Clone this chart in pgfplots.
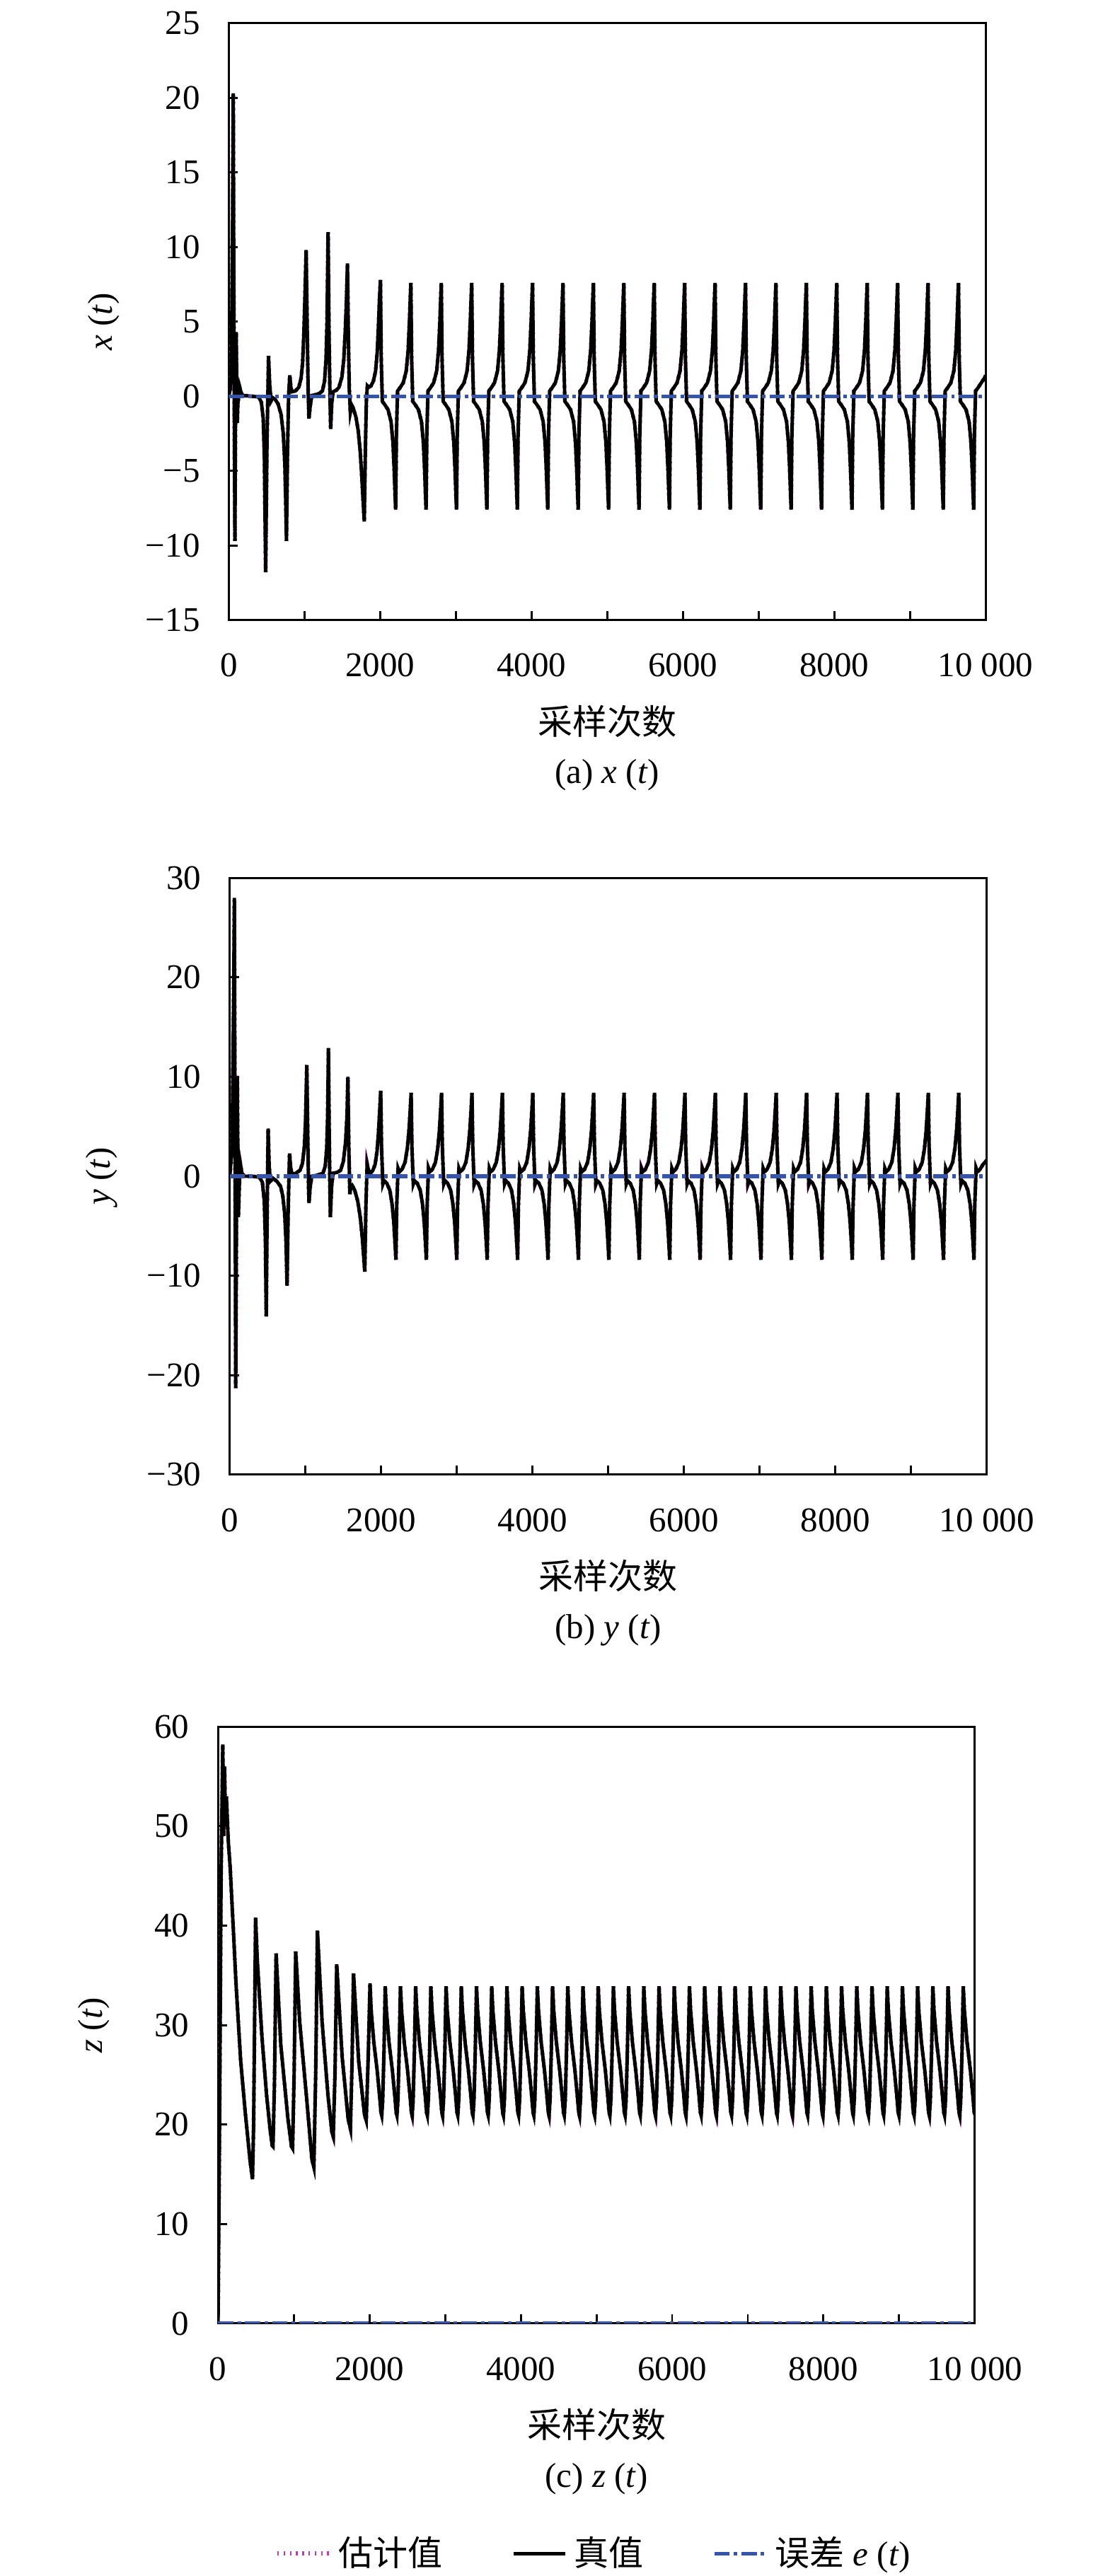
\documentclass[border=0pt]{standalone}
\usepackage{fontspec}
\setmainfont{Liberation Serif}
\newfontfamily\cjk{Noto Sans CJK SC}
\usepackage{pgfplots}
\pgfplotsset{compat=1.18}
\usepackage{pgfplotstable}
\definecolor{errblue}{RGB}{55,85,168}
\definecolor{estmag}{RGB}{175,70,165}

\pgfplotstableread[row sep=\\]{
t v\\
0 0\\ 20 0.5\\ 35 2.4\\ 50 12\\ 59 20.3\\ 66 8\\ 74 -3\\ 81 -9.7\\ 88 -2\\ 97 4.3\\ 105 1\\ 112 -1.8\\ 120 -0.5\\ 144 0.6\\ 165 0.2\\ 190 0.05\\ 300 0\\ 394 -0.05\\ 430 -0.4\\ 455 -1.5\\ 470 -4\\ 487 -11.8\\ 505 -3\\ 525 2.7\\ 540 0.8\\ 559 -0.3\\ 580 -0.1\\ 610 -0.2\\ 650 -0.5\\ 690 -1.2\\ 720 -2.5\\ 740 -4.5\\ 752 -7\\ 762 -9.7\\ 775 -4\\ 790 0\\ 806 1.4\\ 820 0.6\\ 837 0.3\\ 880 0.35\\ 925 0.6\\ 955 1.2\\ 975 2.2\\ 990 4\\ 1005 6.5\\ 1022 9.8\\ 1035 5\\ 1048 0.5\\ 1059 -1.5\\ 1075 -0.7\\ 1097 0.05\\ 1150 0.1\\ 1200 0.2\\ 1237 0.35\\ 1265 1\\ 1285 2.5\\ 1298 5\\ 1312 11\\ 1325 4\\ 1337 0\\ 1346 -2.2\\ 1360 -0.5\\ 1378 0.3\\ 1420 0.4\\ 1456 0.6\\ 1495 1.3\\ 1520 2.5\\ 1540 4.5\\ 1555 6.5\\ 1568 8.9\\ 1580 4\\ 1592 0.5\\ 1606 -1.1\\ 1625 -0.6\\ 1645 -0.8\\ 1680 -1.4\\ 1710 -2.3\\ 1735 -3.6\\ 1755 -5.2\\ 1772 -6.8\\ 1790 -8.4\\ 1805 -3.5\\ 1818 -0.3\\ 1831 0.7\\ 1850 0.6\\ 1880 0.7\\ 1910 1\\ 1940 1.7\\ 1962 3\\ 1978 4.8\\ 1990 6.4\\
2004 7.8\\ 2014 2.5\\ 2029 -0.35\\ 2059 -0.55\\ 2104 -0.9\\ 2144 -1.7\\ 2169 -3.1\\ 2186 -5\\ 2197 -6.6\\ 2205 -7.6\\ 2215 -2.5\\ 2230 0.35\\ 2260 0.55\\ 2305 0.9\\ 2345 1.7\\ 2370 3.1\\ 2387 5\\ 2398 6.6\\
2406 7.6\\ 2416 2.5\\ 2431 -0.35\\ 2461 -0.55\\ 2506 -0.9\\ 2546 -1.7\\ 2571 -3.1\\ 2588 -5\\ 2599 -6.6\\ 2607 -7.6\\ 2617 -2.5\\ 2632 0.35\\ 2662 0.55\\ 2707 0.9\\ 2747 1.7\\ 2772 3.1\\ 2789 5\\ 2800 6.6\\
2808 7.6\\ 2818 2.5\\ 2833 -0.35\\ 2863 -0.55\\ 2908 -0.9\\ 2948 -1.7\\ 2973 -3.1\\ 2990 -5\\ 3001 -6.6\\ 3009 -7.6\\ 3019 -2.5\\ 3034 0.35\\ 3064 0.55\\ 3109 0.9\\ 3149 1.7\\ 3174 3.1\\ 3191 5\\ 3202 6.6\\
3210 7.6\\ 3220 2.5\\ 3235 -0.35\\ 3265 -0.55\\ 3310 -0.9\\ 3350 -1.7\\ 3375 -3.1\\ 3392 -5\\ 3403 -6.6\\ 3411 -7.6\\ 3421 -2.5\\ 3436 0.35\\ 3466 0.55\\ 3511 0.9\\ 3551 1.7\\ 3576 3.1\\ 3593 5\\ 3604 6.6\\
3612 7.6\\ 3622 2.5\\ 3637 -0.35\\ 3667 -0.55\\ 3712 -0.9\\ 3752 -1.7\\ 3777 -3.1\\ 3794 -5\\ 3805 -6.6\\ 3813 -7.6\\ 3823 -2.5\\ 3838 0.35\\ 3868 0.55\\ 3913 0.9\\ 3953 1.7\\ 3978 3.1\\ 3995 5\\ 4006 6.6\\
4014 7.6\\ 4024 2.5\\ 4039 -0.35\\ 4069 -0.55\\ 4114 -0.9\\ 4154 -1.7\\ 4179 -3.1\\ 4196 -5\\ 4207 -6.6\\ 4215 -7.6\\ 4225 -2.5\\ 4240 0.35\\ 4270 0.55\\ 4315 0.9\\ 4355 1.7\\ 4380 3.1\\ 4397 5\\ 4408 6.6\\
4416 7.6\\ 4426 2.5\\ 4441 -0.35\\ 4471 -0.55\\ 4516 -0.9\\ 4556 -1.7\\ 4581 -3.1\\ 4598 -5\\ 4609 -6.6\\ 4617 -7.6\\ 4627 -2.5\\ 4642 0.35\\ 4672 0.55\\ 4717 0.9\\ 4757 1.7\\ 4782 3.1\\ 4799 5\\ 4810 6.6\\
4818 7.6\\ 4828 2.5\\ 4843 -0.35\\ 4873 -0.55\\ 4918 -0.9\\ 4958 -1.7\\ 4983 -3.1\\ 5000 -5\\ 5011 -6.6\\ 5019 -7.6\\ 5029 -2.5\\ 5044 0.35\\ 5074 0.55\\ 5119 0.9\\ 5159 1.7\\ 5184 3.1\\ 5201 5\\ 5212 6.6\\
5220 7.6\\ 5230 2.5\\ 5245 -0.35\\ 5275 -0.55\\ 5320 -0.9\\ 5360 -1.7\\ 5385 -3.1\\ 5402 -5\\ 5413 -6.6\\ 5421 -7.6\\ 5431 -2.5\\ 5446 0.35\\ 5476 0.55\\ 5521 0.9\\ 5561 1.7\\ 5586 3.1\\ 5603 5\\ 5614 6.6\\
5622 7.6\\ 5632 2.5\\ 5647 -0.35\\ 5677 -0.55\\ 5722 -0.9\\ 5762 -1.7\\ 5787 -3.1\\ 5804 -5\\ 5815 -6.6\\ 5823 -7.6\\ 5833 -2.5\\ 5848 0.35\\ 5878 0.55\\ 5923 0.9\\ 5963 1.7\\ 5988 3.1\\ 6005 5\\ 6016 6.6\\
6024 7.6\\ 6034 2.5\\ 6049 -0.35\\ 6079 -0.55\\ 6124 -0.9\\ 6164 -1.7\\ 6189 -3.1\\ 6206 -5\\ 6217 -6.6\\ 6225 -7.6\\ 6235 -2.5\\ 6250 0.35\\ 6280 0.55\\ 6325 0.9\\ 6365 1.7\\ 6390 3.1\\ 6407 5\\ 6418 6.6\\
6426 7.6\\ 6436 2.5\\ 6451 -0.35\\ 6481 -0.55\\ 6526 -0.9\\ 6566 -1.7\\ 6591 -3.1\\ 6608 -5\\ 6619 -6.6\\ 6627 -7.6\\ 6637 -2.5\\ 6652 0.35\\ 6682 0.55\\ 6727 0.9\\ 6767 1.7\\ 6792 3.1\\ 6809 5\\ 6820 6.6\\
6828 7.6\\ 6838 2.5\\ 6853 -0.35\\ 6883 -0.55\\ 6928 -0.9\\ 6968 -1.7\\ 6993 -3.1\\ 7010 -5\\ 7021 -6.6\\ 7029 -7.6\\ 7039 -2.5\\ 7054 0.35\\ 7084 0.55\\ 7129 0.9\\ 7169 1.7\\ 7194 3.1\\ 7211 5\\ 7222 6.6\\
7230 7.6\\ 7240 2.5\\ 7255 -0.35\\ 7285 -0.55\\ 7330 -0.9\\ 7370 -1.7\\ 7395 -3.1\\ 7412 -5\\ 7423 -6.6\\ 7431 -7.6\\ 7441 -2.5\\ 7456 0.35\\ 7486 0.55\\ 7531 0.9\\ 7571 1.7\\ 7596 3.1\\ 7613 5\\ 7624 6.6\\
7632 7.6\\ 7642 2.5\\ 7657 -0.35\\ 7687 -0.55\\ 7732 -0.9\\ 7772 -1.7\\ 7797 -3.1\\ 7814 -5\\ 7825 -6.6\\ 7833 -7.6\\ 7843 -2.5\\ 7858 0.35\\ 7888 0.55\\ 7933 0.9\\ 7973 1.7\\ 7998 3.1\\ 8015 5\\ 8026 6.6\\
8034 7.6\\ 8044 2.5\\ 8059 -0.35\\ 8089 -0.55\\ 8134 -0.9\\ 8174 -1.7\\ 8199 -3.1\\ 8216 -5\\ 8227 -6.6\\ 8235 -7.6\\ 8245 -2.5\\ 8260 0.35\\ 8290 0.55\\ 8335 0.9\\ 8375 1.7\\ 8400 3.1\\ 8417 5\\ 8428 6.6\\
8436 7.6\\ 8446 2.5\\ 8461 -0.35\\ 8491 -0.55\\ 8536 -0.9\\ 8576 -1.7\\ 8601 -3.1\\ 8618 -5\\ 8629 -6.6\\ 8637 -7.6\\ 8647 -2.5\\ 8662 0.35\\ 8692 0.55\\ 8737 0.9\\ 8777 1.7\\ 8802 3.1\\ 8819 5\\ 8830 6.6\\
8838 7.6\\ 8848 2.5\\ 8863 -0.35\\ 8893 -0.55\\ 8938 -0.9\\ 8978 -1.7\\ 9003 -3.1\\ 9020 -5\\ 9031 -6.6\\ 9039 -7.6\\ 9049 -2.5\\ 9064 0.35\\ 9094 0.55\\ 9139 0.9\\ 9179 1.7\\ 9204 3.1\\ 9221 5\\ 9232 6.6\\
9240 7.6\\ 9250 2.5\\ 9265 -0.35\\ 9295 -0.55\\ 9340 -0.9\\ 9380 -1.7\\ 9405 -3.1\\ 9422 -5\\ 9433 -6.6\\ 9441 -7.6\\ 9451 -2.5\\ 9466 0.35\\ 9496 0.55\\ 9541 0.9\\ 9581 1.7\\ 9606 3.1\\ 9623 5\\ 9634 6.6\\
9642 7.6\\ 9652 2.5\\ 9667 -0.35\\ 9697 -0.55\\ 9742 -0.9\\ 9782 -1.7\\ 9807 -3.1\\ 9824 -5\\ 9835 -6.6\\ 9843 -7.6\\ 9853 -2.5\\ 9868 0.35\\ 9898 0.55\\ 9943 0.9\\ 9983 1.2\\ 10000 1.4\\
}\xdata

\pgfplotstableread[row sep=\\]{
t v\\
0 0\\ 30 3\\ 50 18\\ 60 28\\ 68 5\\ 78 -21.3\\ 88 -3\\ 99 10\\ 106 2\\ 113 -4.1\\ 125 -1\\ 138 1.3\\ 160 0.3\\ 195 0\\ 300 0\\ 392 -0.1\\ 430 -0.6\\ 455 -2.5\\ 470 -6.5\\ 481 -14.1\\ 494 -3\\ 506 4.8\\ 520 1\\ 535 -0.5\\ 571 -0.2\\ 620 -0.5\\ 670 -1\\ 700 -2\\ 725 -3.8\\ 742 -6.5\\ 756 -11\\ 772 -3\\ 789 2.3\\ 805 0.8\\ 824 0.2\\ 870 0.3\\ 928 0.6\\ 960 1.3\\ 985 3\\ 1000 5.5\\ 1017 11.2\\ 1030 4\\ 1040 -1\\ 1046 -2.7\\ 1060 -1.2\\ 1082 0\\ 1150 0.1\\ 1230 0.3\\ 1260 1\\ 1280 2.8\\ 1292 6\\ 1303 12.9\\ 1315 3\\ 1328 -4.1\\ 1345 -1\\ 1364 0.3\\ 1420 0.4\\ 1464 0.6\\ 1500 1.5\\ 1530 3.5\\ 1548 6\\ 1560 10\\ 1572 3\\ 1586 -1.8\\ 1600 -1\\ 1615 -0.9\\ 1650 -1.4\\ 1690 -2.5\\ 1725 -4.2\\ 1750 -6.2\\ 1768 -8\\ 1783 -9.6\\ 1798 -3\\ 1814 1.25\\ 1835 0.5\\ 1857 0.3\\ 1890 0.6\\ 1920 1.2\\ 1945 2.5\\ 1962 4.2\\ 1978 6.3\\
1994 8.6\\ 2004 3\\ 2022 -0.8\\ 2039 -0.45\\ 2074 -0.7\\ 2114 -1.4\\ 2144 -2.8\\ 2166 -4.6\\ 2182 -6.6\\ 2195 -8.4\\ 2205 -3\\ 2223 0.8\\ 2240 0.45\\ 2275 0.7\\ 2315 1.4\\ 2345 2.8\\ 2367 4.6\\ 2383 6.6\\
2396 8.4\\ 2406 3\\ 2424 -0.8\\ 2441 -0.45\\ 2476 -0.7\\ 2516 -1.4\\ 2546 -2.8\\ 2568 -4.6\\ 2584 -6.6\\ 2597 -8.4\\ 2607 -3\\ 2625 0.8\\ 2642 0.45\\ 2677 0.7\\ 2717 1.4\\ 2747 2.8\\ 2769 4.6\\ 2785 6.6\\
2798 8.4\\ 2808 3\\ 2826 -0.8\\ 2843 -0.45\\ 2878 -0.7\\ 2918 -1.4\\ 2948 -2.8\\ 2970 -4.6\\ 2986 -6.6\\ 2999 -8.4\\ 3009 -3\\ 3027 0.8\\ 3044 0.45\\ 3079 0.7\\ 3119 1.4\\ 3149 2.8\\ 3171 4.6\\ 3187 6.6\\
3200 8.4\\ 3210 3\\ 3228 -0.8\\ 3245 -0.45\\ 3280 -0.7\\ 3320 -1.4\\ 3350 -2.8\\ 3372 -4.6\\ 3388 -6.6\\ 3401 -8.4\\ 3411 -3\\ 3429 0.8\\ 3446 0.45\\ 3481 0.7\\ 3521 1.4\\ 3551 2.8\\ 3573 4.6\\ 3589 6.6\\
3602 8.4\\ 3612 3\\ 3630 -0.8\\ 3647 -0.45\\ 3682 -0.7\\ 3722 -1.4\\ 3752 -2.8\\ 3774 -4.6\\ 3790 -6.6\\ 3803 -8.4\\ 3813 -3\\ 3831 0.8\\ 3848 0.45\\ 3883 0.7\\ 3923 1.4\\ 3953 2.8\\ 3975 4.6\\ 3991 6.6\\
4004 8.4\\ 4014 3\\ 4032 -0.8\\ 4049 -0.45\\ 4084 -0.7\\ 4124 -1.4\\ 4154 -2.8\\ 4176 -4.6\\ 4192 -6.6\\ 4205 -8.4\\ 4215 -3\\ 4233 0.8\\ 4250 0.45\\ 4285 0.7\\ 4325 1.4\\ 4355 2.8\\ 4377 4.6\\ 4393 6.6\\
4406 8.4\\ 4416 3\\ 4434 -0.8\\ 4451 -0.45\\ 4486 -0.7\\ 4526 -1.4\\ 4556 -2.8\\ 4578 -4.6\\ 4594 -6.6\\ 4607 -8.4\\ 4617 -3\\ 4635 0.8\\ 4652 0.45\\ 4687 0.7\\ 4727 1.4\\ 4757 2.8\\ 4779 4.6\\ 4795 6.6\\
4808 8.4\\ 4818 3\\ 4836 -0.8\\ 4853 -0.45\\ 4888 -0.7\\ 4928 -1.4\\ 4958 -2.8\\ 4980 -4.6\\ 4996 -6.6\\ 5009 -8.4\\ 5019 -3\\ 5037 0.8\\ 5054 0.45\\ 5089 0.7\\ 5129 1.4\\ 5159 2.8\\ 5181 4.6\\ 5197 6.6\\
5210 8.4\\ 5220 3\\ 5238 -0.8\\ 5255 -0.45\\ 5290 -0.7\\ 5330 -1.4\\ 5360 -2.8\\ 5382 -4.6\\ 5398 -6.6\\ 5411 -8.4\\ 5421 -3\\ 5439 0.8\\ 5456 0.45\\ 5491 0.7\\ 5531 1.4\\ 5561 2.8\\ 5583 4.6\\ 5599 6.6\\
5612 8.4\\ 5622 3\\ 5640 -0.8\\ 5657 -0.45\\ 5692 -0.7\\ 5732 -1.4\\ 5762 -2.8\\ 5784 -4.6\\ 5800 -6.6\\ 5813 -8.4\\ 5823 -3\\ 5841 0.8\\ 5858 0.45\\ 5893 0.7\\ 5933 1.4\\ 5963 2.8\\ 5985 4.6\\ 6001 6.6\\
6014 8.4\\ 6024 3\\ 6042 -0.8\\ 6059 -0.45\\ 6094 -0.7\\ 6134 -1.4\\ 6164 -2.8\\ 6186 -4.6\\ 6202 -6.6\\ 6215 -8.4\\ 6225 -3\\ 6243 0.8\\ 6260 0.45\\ 6295 0.7\\ 6335 1.4\\ 6365 2.8\\ 6387 4.6\\ 6403 6.6\\
6416 8.4\\ 6426 3\\ 6444 -0.8\\ 6461 -0.45\\ 6496 -0.7\\ 6536 -1.4\\ 6566 -2.8\\ 6588 -4.6\\ 6604 -6.6\\ 6617 -8.4\\ 6627 -3\\ 6645 0.8\\ 6662 0.45\\ 6697 0.7\\ 6737 1.4\\ 6767 2.8\\ 6789 4.6\\ 6805 6.6\\
6818 8.4\\ 6828 3\\ 6846 -0.8\\ 6863 -0.45\\ 6898 -0.7\\ 6938 -1.4\\ 6968 -2.8\\ 6990 -4.6\\ 7006 -6.6\\ 7019 -8.4\\ 7029 -3\\ 7047 0.8\\ 7064 0.45\\ 7099 0.7\\ 7139 1.4\\ 7169 2.8\\ 7191 4.6\\ 7207 6.6\\
7220 8.4\\ 7230 3\\ 7248 -0.8\\ 7265 -0.45\\ 7300 -0.7\\ 7340 -1.4\\ 7370 -2.8\\ 7392 -4.6\\ 7408 -6.6\\ 7421 -8.4\\ 7431 -3\\ 7449 0.8\\ 7466 0.45\\ 7501 0.7\\ 7541 1.4\\ 7571 2.8\\ 7593 4.6\\ 7609 6.6\\
7622 8.4\\ 7632 3\\ 7650 -0.8\\ 7667 -0.45\\ 7702 -0.7\\ 7742 -1.4\\ 7772 -2.8\\ 7794 -4.6\\ 7810 -6.6\\ 7823 -8.4\\ 7833 -3\\ 7851 0.8\\ 7868 0.45\\ 7903 0.7\\ 7943 1.4\\ 7973 2.8\\ 7995 4.6\\ 8011 6.6\\
8024 8.4\\ 8034 3\\ 8052 -0.8\\ 8069 -0.45\\ 8104 -0.7\\ 8144 -1.4\\ 8174 -2.8\\ 8196 -4.6\\ 8212 -6.6\\ 8225 -8.4\\ 8235 -3\\ 8253 0.8\\ 8270 0.45\\ 8305 0.7\\ 8345 1.4\\ 8375 2.8\\ 8397 4.6\\ 8413 6.6\\
8426 8.4\\ 8436 3\\ 8454 -0.8\\ 8471 -0.45\\ 8506 -0.7\\ 8546 -1.4\\ 8576 -2.8\\ 8598 -4.6\\ 8614 -6.6\\ 8627 -8.4\\ 8637 -3\\ 8655 0.8\\ 8672 0.45\\ 8707 0.7\\ 8747 1.4\\ 8777 2.8\\ 8799 4.6\\ 8815 6.6\\
8828 8.4\\ 8838 3\\ 8856 -0.8\\ 8873 -0.45\\ 8908 -0.7\\ 8948 -1.4\\ 8978 -2.8\\ 9000 -4.6\\ 9016 -6.6\\ 9029 -8.4\\ 9039 -3\\ 9057 0.8\\ 9074 0.45\\ 9109 0.7\\ 9149 1.4\\ 9179 2.8\\ 9201 4.6\\ 9217 6.6\\
9230 8.4\\ 9240 3\\ 9258 -0.8\\ 9275 -0.45\\ 9310 -0.7\\ 9350 -1.4\\ 9380 -2.8\\ 9402 -4.6\\ 9418 -6.6\\ 9431 -8.4\\ 9441 -3\\ 9459 0.8\\ 9476 0.45\\ 9511 0.7\\ 9551 1.4\\ 9581 2.8\\ 9603 4.6\\ 9619 6.6\\
9632 8.4\\ 9642 3\\ 9660 -0.8\\ 9677 -0.45\\ 9712 -0.7\\ 9752 -1.4\\ 9782 -2.8\\ 9804 -4.6\\ 9820 -6.6\\ 9833 -8.4\\ 9843 -3\\ 9861 0.8\\ 9878 0.45\\ 9913 0.7\\ 9953 1.2\\ 10000 1.6\\
}\ydata

\pgfplotstableread[row sep=\\]{
t v\\
0 0\\ 20 20\\ 40 45\\ 62 58.2\\ 74 49\\ 86 56\\ 98 50\\ 110 53\\ 135 48.5\\ 159 46\\ 206 39\\ 237 34.2\\ 299 26.4\\ 362 21\\ 424 16.3\\ 455 14.5\\ 470 20\\ 485 32\\ 496 40.8\\ 518 36.6\\ 580 28.8\\ 642 22.9\\ 689 19.4\\ 715 17.9\\ 726 17.8\\ 745 24\\ 767 37.2\\ 829 28\\ 923 20.6\\ 970 17.8\\ 985 17.6\\ 1005 25\\ 1026 37.4\\ 1079 30.3\\ 1172 22.5\\ 1240 16.5\\ 1266 15.7\\ 1290 25\\ 1313 39.5\\ 1375 30.3\\ 1453 22.9\\ 1505 19.2\\ 1522 18.8\\ 1545 25\\ 1568 36.1\\ 1640 26.8\\ 1720 20.5\\ 1749 19.6\\ 1770 26\\ 1790 35.2\\ 1858 26.4\\ 1935 21\\ 1958 20.4\\ 1985 27\\
2008 34.2\\ 2023 31.5\\ 2058 28.3\\ 2103 25.4\\ 2133 23\\ 2153 21.2\\ 2163 20.9\\ 2176 22.5\\ 2193 27.5\\
2209 33.9\\ 2224 31.5\\ 2259 28.3\\ 2304 25.4\\ 2334 23\\ 2354 21.2\\ 2364 20.9\\ 2377 22.5\\ 2394 27.5\\
2410 33.9\\ 2425 31.5\\ 2460 28.3\\ 2505 25.4\\ 2535 23\\ 2555 21.2\\ 2565 20.9\\ 2578 22.5\\ 2595 27.5\\
2611 33.9\\ 2626 31.5\\ 2661 28.3\\ 2706 25.4\\ 2736 23\\ 2756 21.2\\ 2766 20.9\\ 2779 22.5\\ 2796 27.5\\
2812 33.9\\ 2827 31.5\\ 2862 28.3\\ 2907 25.4\\ 2937 23\\ 2957 21.2\\ 2967 20.9\\ 2980 22.5\\ 2997 27.5\\
3013 33.9\\ 3028 31.5\\ 3063 28.3\\ 3108 25.4\\ 3138 23\\ 3158 21.2\\ 3168 20.9\\ 3181 22.5\\ 3198 27.5\\
3214 33.9\\ 3229 31.5\\ 3264 28.3\\ 3309 25.4\\ 3339 23\\ 3359 21.2\\ 3369 20.9\\ 3382 22.5\\ 3399 27.5\\
3415 33.9\\ 3430 31.5\\ 3465 28.3\\ 3510 25.4\\ 3540 23\\ 3560 21.2\\ 3570 20.9\\ 3583 22.5\\ 3600 27.5\\
3616 33.9\\ 3631 31.5\\ 3666 28.3\\ 3711 25.4\\ 3741 23\\ 3761 21.2\\ 3771 20.9\\ 3784 22.5\\ 3801 27.5\\
3817 33.9\\ 3832 31.5\\ 3867 28.3\\ 3912 25.4\\ 3942 23\\ 3962 21.2\\ 3972 20.9\\ 3985 22.5\\ 4002 27.5\\
4018 33.9\\ 4033 31.5\\ 4068 28.3\\ 4113 25.4\\ 4143 23\\ 4163 21.2\\ 4173 20.9\\ 4186 22.5\\ 4203 27.5\\
4219 33.9\\ 4234 31.5\\ 4269 28.3\\ 4314 25.4\\ 4344 23\\ 4364 21.2\\ 4374 20.9\\ 4387 22.5\\ 4404 27.5\\
4420 33.9\\ 4435 31.5\\ 4470 28.3\\ 4515 25.4\\ 4545 23\\ 4565 21.2\\ 4575 20.9\\ 4588 22.5\\ 4605 27.5\\
4621 33.9\\ 4636 31.5\\ 4671 28.3\\ 4716 25.4\\ 4746 23\\ 4766 21.2\\ 4776 20.9\\ 4789 22.5\\ 4806 27.5\\
4822 33.9\\ 4837 31.5\\ 4872 28.3\\ 4917 25.4\\ 4947 23\\ 4967 21.2\\ 4977 20.9\\ 4990 22.5\\ 5007 27.5\\
5023 33.9\\ 5038 31.5\\ 5073 28.3\\ 5118 25.4\\ 5148 23\\ 5168 21.2\\ 5178 20.9\\ 5191 22.5\\ 5208 27.5\\
5224 33.9\\ 5239 31.5\\ 5274 28.3\\ 5319 25.4\\ 5349 23\\ 5369 21.2\\ 5379 20.9\\ 5392 22.5\\ 5409 27.5\\
5425 33.9\\ 5440 31.5\\ 5475 28.3\\ 5520 25.4\\ 5550 23\\ 5570 21.2\\ 5580 20.9\\ 5593 22.5\\ 5610 27.5\\
5626 33.9\\ 5641 31.5\\ 5676 28.3\\ 5721 25.4\\ 5751 23\\ 5771 21.2\\ 5781 20.9\\ 5794 22.5\\ 5811 27.5\\
5827 33.9\\ 5842 31.5\\ 5877 28.3\\ 5922 25.4\\ 5952 23\\ 5972 21.2\\ 5982 20.9\\ 5995 22.5\\ 6012 27.5\\
6028 33.9\\ 6043 31.5\\ 6078 28.3\\ 6123 25.4\\ 6153 23\\ 6173 21.2\\ 6183 20.9\\ 6196 22.5\\ 6213 27.5\\
6229 33.9\\ 6244 31.5\\ 6279 28.3\\ 6324 25.4\\ 6354 23\\ 6374 21.2\\ 6384 20.9\\ 6397 22.5\\ 6414 27.5\\
6430 33.9\\ 6445 31.5\\ 6480 28.3\\ 6525 25.4\\ 6555 23\\ 6575 21.2\\ 6585 20.9\\ 6598 22.5\\ 6615 27.5\\
6631 33.9\\ 6646 31.5\\ 6681 28.3\\ 6726 25.4\\ 6756 23\\ 6776 21.2\\ 6786 20.9\\ 6799 22.5\\ 6816 27.5\\
6832 33.9\\ 6847 31.5\\ 6882 28.3\\ 6927 25.4\\ 6957 23\\ 6977 21.2\\ 6987 20.9\\ 7000 22.5\\ 7017 27.5\\
7033 33.9\\ 7048 31.5\\ 7083 28.3\\ 7128 25.4\\ 7158 23\\ 7178 21.2\\ 7188 20.9\\ 7201 22.5\\ 7218 27.5\\
7234 33.9\\ 7249 31.5\\ 7284 28.3\\ 7329 25.4\\ 7359 23\\ 7379 21.2\\ 7389 20.9\\ 7402 22.5\\ 7419 27.5\\
7435 33.9\\ 7450 31.5\\ 7485 28.3\\ 7530 25.4\\ 7560 23\\ 7580 21.2\\ 7590 20.9\\ 7603 22.5\\ 7620 27.5\\
7636 33.9\\ 7651 31.5\\ 7686 28.3\\ 7731 25.4\\ 7761 23\\ 7781 21.2\\ 7791 20.9\\ 7804 22.5\\ 7821 27.5\\
7837 33.9\\ 7852 31.5\\ 7887 28.3\\ 7932 25.4\\ 7962 23\\ 7982 21.2\\ 7992 20.9\\ 8005 22.5\\ 8022 27.5\\
8038 33.9\\ 8053 31.5\\ 8088 28.3\\ 8133 25.4\\ 8163 23\\ 8183 21.2\\ 8193 20.9\\ 8206 22.5\\ 8223 27.5\\
8239 33.9\\ 8254 31.5\\ 8289 28.3\\ 8334 25.4\\ 8364 23\\ 8384 21.2\\ 8394 20.9\\ 8407 22.5\\ 8424 27.5\\
8440 33.9\\ 8455 31.5\\ 8490 28.3\\ 8535 25.4\\ 8565 23\\ 8585 21.2\\ 8595 20.9\\ 8608 22.5\\ 8625 27.5\\
8641 33.9\\ 8656 31.5\\ 8691 28.3\\ 8736 25.4\\ 8766 23\\ 8786 21.2\\ 8796 20.9\\ 8809 22.5\\ 8826 27.5\\
8842 33.9\\ 8857 31.5\\ 8892 28.3\\ 8937 25.4\\ 8967 23\\ 8987 21.2\\ 8997 20.9\\ 9010 22.5\\ 9027 27.5\\
9043 33.9\\ 9058 31.5\\ 9093 28.3\\ 9138 25.4\\ 9168 23\\ 9188 21.2\\ 9198 20.9\\ 9211 22.5\\ 9228 27.5\\
9244 33.9\\ 9259 31.5\\ 9294 28.3\\ 9339 25.4\\ 9369 23\\ 9389 21.2\\ 9399 20.9\\ 9412 22.5\\ 9429 27.5\\
9445 33.9\\ 9460 31.5\\ 9495 28.3\\ 9540 25.4\\ 9570 23\\ 9590 21.2\\ 9600 20.9\\ 9613 22.5\\ 9630 27.5\\
9646 33.9\\ 9661 31.5\\ 9696 28.3\\ 9741 25.4\\ 9771 23\\ 9791 21.2\\ 9801 20.9\\ 9814 22.5\\ 9831 27.5\\
9847 33.9\\ 9862 31.5\\ 9897 28.3\\ 9942 25.4\\ 9972 23\\ 9992 21.2\\ 10000 21\\
}\zdata

\pgfplotsset{
  base/.style={
    scale only axis, width=218.3pt, height=172.2pt,
    xmin=0, xmax=10000,
    scaled x ticks=false, scaled y ticks=false,
    tick align=inside, xtick pos=bottom, ytick pos=left,
    major tick length=2.6pt,
    axis line style={line width=0.6pt},
    every tick/.style={black, line width=0.6pt},
    xtick={0,1000,...,10000},
    xticklabels={0,,2000,,4000,,6000,,8000,,10 000},
    xticklabel style={yshift=-6.2pt},
    yticklabel style={xshift=-4.8pt},
    xlabel={\cjk 采样次数},
    xlabel style={at={(axis description cs:0.5,0)}, anchor=center, yshift=-29.2pt},
    title style={at={(axis description cs:0.5,0)}, anchor=center, yshift=-50.8pt},
    clip=true,
  },
  est/.style={estmag, line width=1.15pt, dash pattern=on 0.5pt off 1.3pt},
  tru/.style={black, line width=1pt},
  err/.style={errblue, line width=1.05pt, dash pattern=on 4.4pt off 1.2pt on 1pt off 1.2pt},
}

\begin{document}
\begin{tikzpicture}
\path[use as bounding box] (0,0) rectangle (321.43pt,-743.27pt);

\begin{axis}[base, at={(66pt,-6.7pt)}, anchor=north west,
  ymin=-15, ymax=25, ytick={-15,-10,...,25},
  yticklabels={−15,−10,−5,0,5,10,15,20,25},
  ylabel={\textit{x} (\textit{t})},
  ylabel style={at={(axis description cs:-0.1654,0.5)}, anchor=center},
  title={(a) \textit{x} (\textit{t})}]
\addplot[est] table[x=t,y=v]{\xdata};
\addplot[tru] table[x=t,y=v]{\xdata};
\addplot[err] coordinates {(0,0) (10000,0)};
\end{axis}

\begin{axis}[base, at={(66.3pt,-253.3pt)}, anchor=north west,
  ymin=-30, ymax=30, ytick={-30,-20,...,30},
  yticklabels={−30,−20,−10,0,10,20,30},
  ylabel={\textit{y} (\textit{t})},
  ylabel style={at={(axis description cs:-0.169,0.5)}, anchor=center},
  title={(b) \textit{y} (\textit{t})}]
\addplot[est] table[x=t,y=v]{\ydata};
\addplot[tru] table[x=t,y=v]{\ydata};
\addplot[err] coordinates {(0,0) (10000,0)};
\end{axis}

\begin{axis}[base, at={(62.9pt,-498.2pt)}, anchor=north west,
  ymin=0, ymax=60, ytick={0,10,...,60},
  yticklabels={0,10,20,30,40,50,60},
  ylabel={\textit{z} (\textit{t})},
  ylabel style={at={(axis description cs:-0.164,0.5)}, anchor=center},
  title={(c) \textit{z} (\textit{t})},
  legend columns=3,
  legend style={at={(axis description cs:0.5,-0.3855)}, anchor=center, draw=none, fill=none,
    /tikz/every even column/.append style={column sep=18pt}},
  legend image code/.code={\draw[#1] (0pt,0pt) -- (15pt,0pt);}]
\addplot[est] table[x=t,y=v]{\zdata};
\addlegendentry{\cjk 估计值}
\addplot[tru] table[x=t,y=v]{\zdata};
\addlegendentry{\cjk 真值}
\addplot[err] coordinates {(0,0) (10000,0)};
\addlegendentry{{\cjk 误差} \textit{e} (\textit{t})}
\end{axis}
\end{tikzpicture}
\end{document}
